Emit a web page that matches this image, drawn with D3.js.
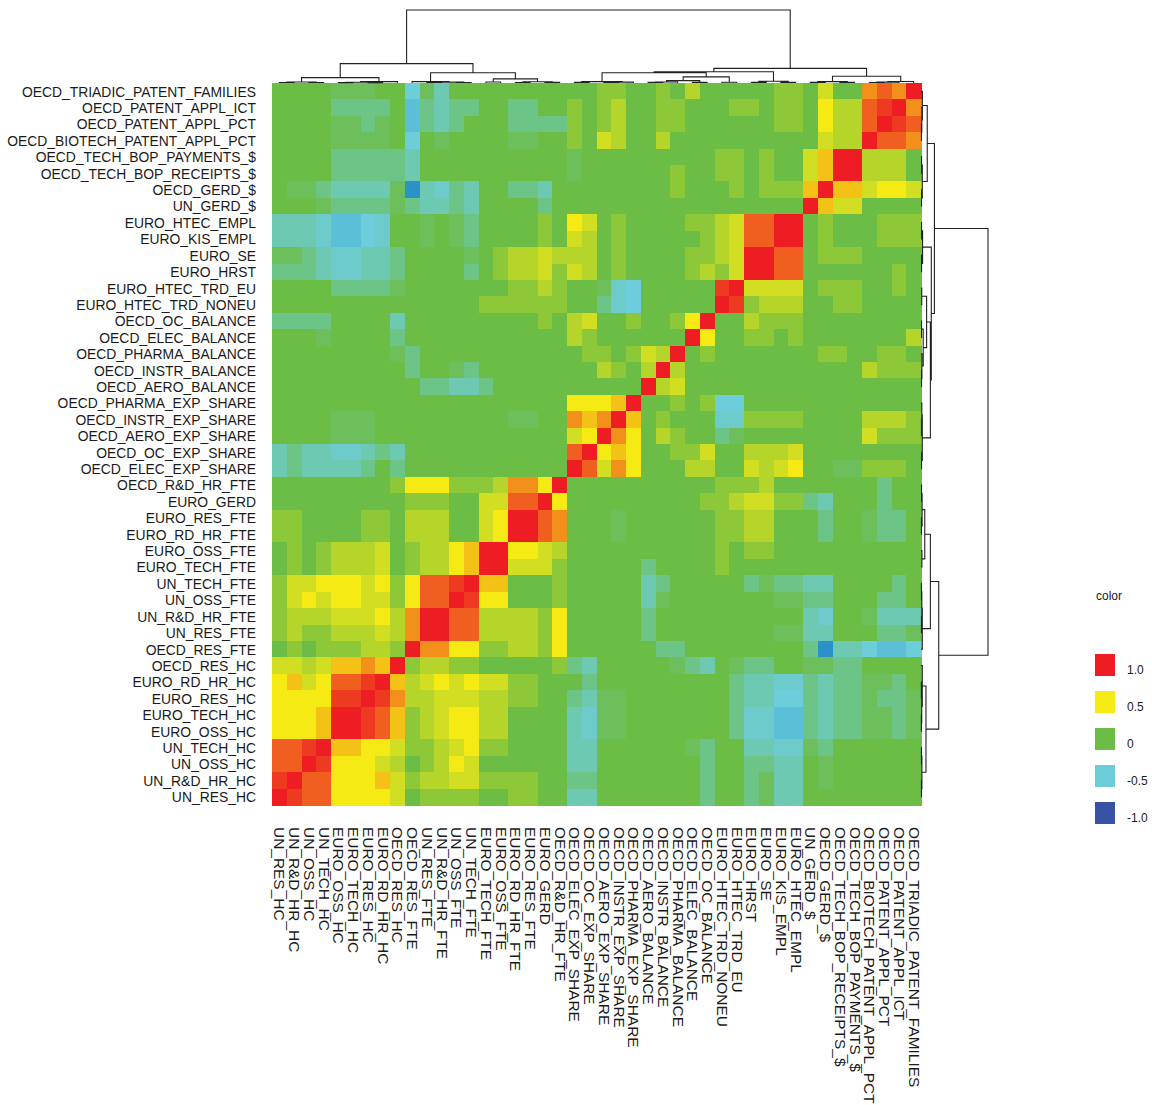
<!DOCTYPE html>
<html>
<head>
<meta charset="utf-8">
<script src="https://cdn.jsdelivr.net/npm/d3@7"></script>
<style>
  body { margin: 0; background: #fff; }
  text { font-family: "Liberation Sans", Arial, sans-serif; fill: #1a1a1a; }
</style>
</head>
<body>
<svg id="chart" width="1152" height="1105"></svg>
<script>
// variable order along the columns (rows use the reverse)
const colNames = ["UN_RES_HC", "UN_R&D_HR_HC", "UN_OSS_HC", "UN_TECH_HC", "EURO_OSS_HC", "EURO_TECH_HC",
  "EURO_RES_HC", "EURO_RD_HR_HC", "OECD_RES_HC", "OECD_RES_FTE", "UN_RES_FTE", "UN_R&D_HR_FTE",
  "UN_OSS_FTE", "UN_TECH_FTE", "EURO_TECH_FTE", "EURO_OSS_FTE", "EURO_RD_HR_FTE", "EURO_RES_FTE",
  "EURO_GERD", "OECD_R&D_HR_FTE", "OECD_ELEC_EXP_SHARE", "OECD_OC_EXP_SHARE", "OECD_AERO_EXP_SHARE",
  "OECD_INSTR_EXP_SHARE", "OECD_PHARMA_EXP_SHARE", "OECD_AERO_BALANCE", "OECD_INSTR_BALANCE",
  "OECD_PHARMA_BALANCE", "OECD_ELEC_BALANCE", "OECD_OC_BALANCE", "EURO_HTEC_TRD_NONEU",
  "EURO_HTEC_TRD_EU", "EURO_HRST", "EURO_SE", "EURO_KIS_EMPL", "EURO_HTEC_EMPL", "UN_GERD_$",
  "OECD_GERD_$", "OECD_TECH_BOP_RECEIPTS_$", "OECD_TECH_BOP_PAYMENTS_$", "OECD_BIOTECH_PATENT_APPL_PCT",
  "OECD_PATENT_APPL_PCT", "OECD_PATENT_APPL_ICT", "OECD_TRIADIC_PATENT_FAMILIES"];
const rowNames = colNames.slice().reverse();

// correlation levels, one letter per cell
const levels = { R: 1, r: 0.93, O: 0.84, o: 0.72, A: 0.6, Y: 0.5, y: 0.37, L: 0.27, l: 0.12,
  G: 0, g: -0.07, t: -0.22, T: -0.36, c: -0.45, C: -0.5, b: -0.56, B: -0.75 };

// lower triangle: entry i holds corr(var i, var j) for j < i
const lowerTri = [
  "",
  "r",
  "OO",
  "OOr",
  "YYYA",
  "YYYAR",
  "YYYYrr",
  "YAyYOOr",
  "yyLyAAoA",
  "GlGlllLLl",
  "lLllLLLyLo",
  "lLLLyyyYLoR",
  "lyYyYYyylYOO",
  "lyyYYYyYlYOOr",
  "GlGlLLLyGlLLYA",
  "GlGlLLLyGlLLYAR",
  "llGGGGllGLLLGGyY",
  "llGGGGllGLLLGGyYR",
  "GGGGGGGGGlllGGyyOO",
  "GGGGGGGGlYYYlllLooY",
  "TtTTTTtGtGGGGGGGGGGG",
  "TtTTccTtTGGGGGGGGGGGO",
  "GGGGgggGGGGGGGGGGGGGyY",
  "GGGGgggGGGGGGGGGggGGoAo",
  "GGGGGGGGGGGGGGGGGGGGYYYA",
  "GGGGGGGGGGttTTtGGGGGGGGGG",
  "GGGGGGGGGtGGgtGGGGGGGGLlGL",
  "GGGGGGGGgtGGGGGGGGGGGllGlyL",
  "GGGgGGGGtGGGGGGGGGGGLlGGGGGG",
  "ttttGGGGTGGGGGGGGGlGLyGGlGGlY",
  "GGGGGGGGGGGGGGllllllGGtcCGGGGG",
  "GGGGttttgGGGGGGGllLlGGgcCGGGGGr",
  "tttTccTTtGGGGtGlLLylyLGlGGGGlLly",
  "ggtTccTTtGGGGgGlLLyLLLGlGGGGllLyR",
  "TTTcbbCcGGgGgtGGGGlGyLGlGGGGGlLyOO",
  "TTTcbbCcGGgGgtGGGGlGYyGlGGGGllLyOOR",
  "GGGgttttgtTTtTGGGGtGGGGGGGGGGGGGGGGG",
  "GggtTTTTgBTctTGGttTGGGGGGGGlGGGlGlllA",
  "GGGGtttttTGGGGGGGGGGgGGGGGGlGGllGlGGyA",
  "GGGGtttttTGGGGGGGGGGgGGGGGGGGGllGlGGyAR",
  "GGGGggggGCGgGGGGggGGlGyLGGLGGGGGGGGGGyLL",
  "GGGGggtgGbtTtGGGttttlGlLGGllGGGGGGllGYLLO",
  "GGGGttttGbtTttGGttGGlGlLGGllGGGllGllGYLLOr",
  "GGGGgggGGCgTGGGGGGGGGGllGGlGLGGGGGllGyGGoOo"
];

// dendrogram: [height, left, right], leaves are column indices
const tree = [72.9,
  [19.3,
    [5.4, [1.0, [0.5, 0, 1], [0.5, 2, 3]], [1.4, [0.8, [0.4, 4, 5], [0.4, 6, 7]], 8]],
    [10.2, [1.4, 9, [0.9, [0.5, 10, 11], [0.5, 12, 13]]],
      [4.1, [1.0, 14, 15], [1.2, [0.5, 16, 17], [0.6, 18, 19]]]]],
  [14.6,
    [11.2,
      [10.2, [1.4, [0.6, 20, 21], [0.9, [0.5, 22, 23], 24]],
        [6.1, [2.4, [1.0, [0.6, 25, 26], 27], [0.6, 28, 29]], [0.8, 30, 31]]],
      [1.7, [0.6, 32, 33], [0.6, 34, 35]]],
    [6.8, [1.4, [0.6, 36, 37], [0.6, 38, 39]], [1.5, [0.9, [0.5, 40, 41], 42], 43]]]];

const legendValues = [1.0, 0.5, 0, -0.5, -1.0];
const legendLabels = ["1.0", "0.5", "0", "-0.5", "-1.0"];

const n = colNames.length;
const corr = d3.range(n).map(() => new Array(n).fill(1));
lowerTri.forEach((s, i) => {
  for (let j = 0; j < s.length; j++) {
    corr[i][j] = levels[s[j]];
    corr[j][i] = levels[s[j]];
  }
});

const svg = d3.select("#chart");
const stretch = 1.112;   // the picture is a bit taller than wide

const x = d3.scaleBand().domain(d3.range(n)).range([272, 921]);
const y = d3.scaleBand().domain(d3.range(n)).range([83, 805]);

// positive side and the green-cyan step blend in rgb, cyan to blue in hcl
const colorPos = d3.scaleLinear()
  .domain([-0.5, 0, 0.5, 1])
  .range(["#6dcddb", "#6cbd45", "#f5ea14", "#ee1d24"])
  .clamp(true);
const colorNeg = d3.scaleLinear()
  .domain([-1, -0.5])
  .range(["#3953a4", "#6dcddb"])
  .interpolate(d3.interpolateHcl)
  .clamp(true);
const color = v => v < -0.5 ? colorNeg(v) : colorPos(v);

// heatmap cells
const cells = [];
for (let r = 0; r < n; r++) {
  for (let c = 0; c < n; c++) {
    cells.push({ r: r, c: c, v: corr[n - 1 - r][c] });
  }
}
svg.append("g")
  .attr("shape-rendering", "crispEdges")
  .selectAll("rect")
  .data(cells)
  .join("rect")
  .attr("x", d => x(d.c))
  .attr("y", d => y(d.r))
  .attr("width", x.bandwidth() + 0.5)
  .attr("height", y.bandwidth() + 0.5)
  .attr("fill", d => color(d.v));

// row labels
svg.append("g")
  .selectAll("text")
  .data(rowNames)
  .join("text")
  .attr("transform", (d, i) => `translate(256,${y(i) + y.bandwidth() / 2}) scale(1,${stretch})`)
  .attr("dy", "0.35em")
  .attr("text-anchor", "end")
  .style("font-size", "13.9px")
  .text(d => d);

// column labels
svg.append("g")
  .selectAll("text")
  .data(colNames)
  .join("text")
  .attr("transform", (d, i) => `translate(${x(i) + x.bandwidth() / 2},827) scale(1,${stretch}) rotate(90)`)
  .attr("dy", "0.35em")
  .attr("text-anchor", "start")
  .style("font-size", "13.9px")
  .text(d => d);

// dendrograms
const root = d3.hierarchy(tree, d => Array.isArray(d) ? d.slice(1) : null);
root.eachAfter(node => {
  if (!node.children) {
    node.pos = node.data;
    node.h = 0;
  } else {
    node.pos = (node.children[0].pos + node.children[1].pos) / 2;
    node.h = node.data[0];
  }
});

const topH = d3.scaleLinear().domain([0, 72.9]).range([83, 10]);
const rightH = d3.scaleLinear().domain([0, 72.9]).range([921, 988]);
const colCenter = p => x(0) + (p + 0.5) * x.step();
const rowCenter = p => y(0) + (n - 1 - p + 0.5) * y.step();

const topPath = d3.path();
const rightPath = d3.path();
root.each(node => {
  if (!node.children) return;
  const [a, b] = node.children;
  topPath.moveTo(colCenter(a.pos), topH(a.h));
  topPath.lineTo(colCenter(a.pos), topH(node.h));
  topPath.lineTo(colCenter(b.pos), topH(node.h));
  topPath.lineTo(colCenter(b.pos), topH(b.h));
  rightPath.moveTo(rightH(a.h), rowCenter(a.pos));
  rightPath.lineTo(rightH(node.h), rowCenter(a.pos));
  rightPath.lineTo(rightH(node.h), rowCenter(b.pos));
  rightPath.lineTo(rightH(b.h), rowCenter(b.pos));
});
svg.append("path").attr("d", topPath.toString())
  .attr("fill", "none").attr("stroke", "#222").attr("stroke-width", 1.1);
svg.append("path").attr("d", rightPath.toString())
  .attr("fill", "none").attr("stroke", "#222").attr("stroke-width", 1.1);

// legend
const legend = svg.append("g");
legend.append("text")
  .attr("transform", `translate(1096,600) scale(1,${stretch})`)
  .style("font-size", "12px")
  .text("color");
const ly = d3.scalePoint().domain(legendLabels).range([665, 813]);
legend.selectAll("rect")
  .data(legendValues)
  .join("rect")
  .attr("x", 1095)
  .attr("y", (d, i) => ly(legendLabels[i]) - 11)
  .attr("width", 20)
  .attr("height", 22)
  .attr("fill", d => color(d));
legend.selectAll("text.lab")
  .data(legendLabels)
  .join("text")
  .attr("class", "lab")
  .attr("transform", d => `translate(1127,${ly(d) + 4}) scale(1,${stretch})`)
  .attr("dy", "0.35em")
  .style("font-size", "12px")
  .text(d => d);
</script>
</body>
</html>
